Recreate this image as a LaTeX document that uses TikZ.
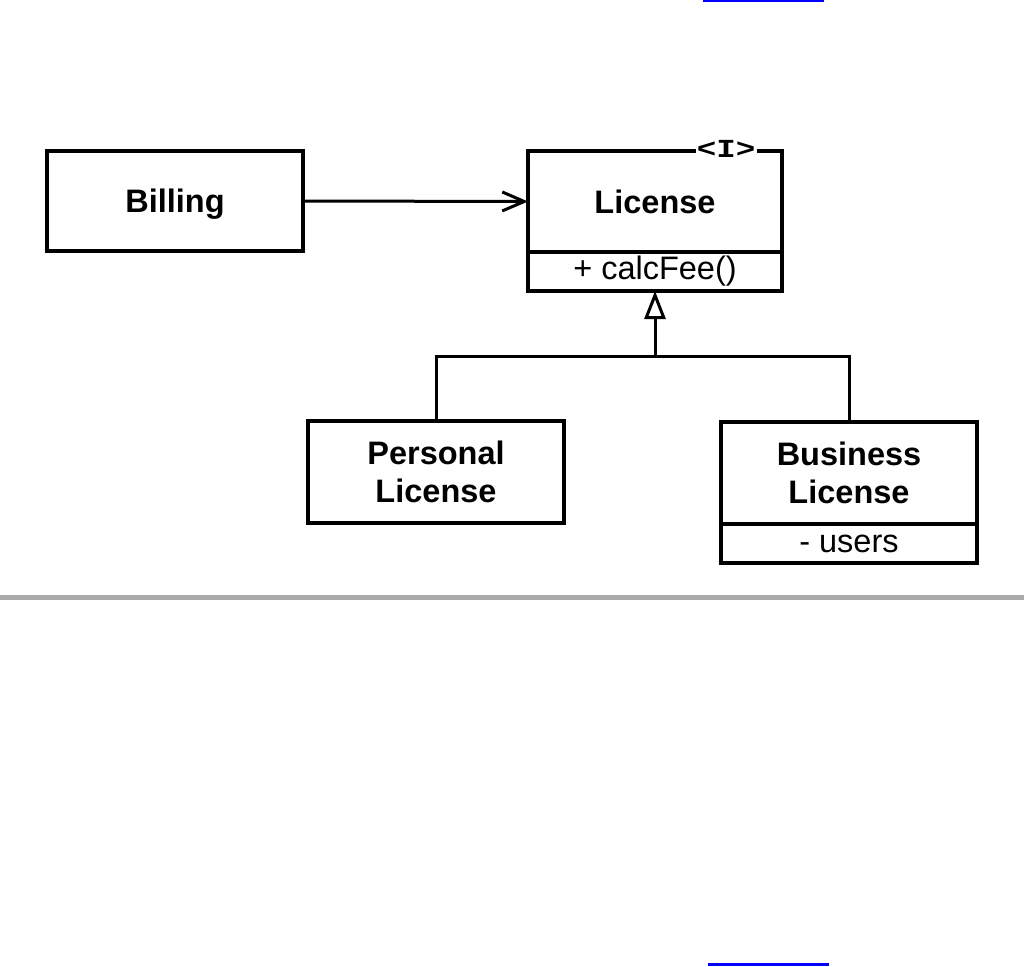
\documentclass[tikz,border=0pt]{standalone}
\usepackage{fontspec}
\setmainfont{Liberation Sans}
\newfontfamily\monofnt{Liberation Mono}
\usetikzlibrary{arrows.meta}
\definecolor{rulegray}{RGB}{170,170,172}
\definecolor{linkblue}{RGB}{0,0,255}
\tikzset{
  umlbox/.style={draw, line width=3.2pt, rectangle, inner sep=0pt, outer sep=0pt,
    anchor=north west, minimum width=#1, align=center,
    font=\fontsize{32.5}{38}\selectfont\bfseries},
  umlbox/.default=256pt,
  umlop/.style={draw, line width=3.2pt, rectangle, inner sep=0pt, outer sep=0pt,
    anchor=north west, minimum width=#1, minimum height=39pt, align=center,
    font=\fontsize{32.5}{38}\selectfont},
  conn/.style={line width=3pt},
}
\begin{document}
\begin{tikzpicture}[x=1pt,y=-1pt]
\useasboundingbox (0,0) rectangle (1024,966);
% page furniture
\fill[linkblue] (703,0) rectangle (824,2);
\fill[linkblue] (708,963) rectangle (829,966);
\fill[rulegray] (0,595) rectangle (1024,600);
% classes
\node[umlbox=256pt, minimum height=100pt, text depth=0pt] (bill) at (47,151) {Billing};
\node[umlbox=254pt, minimum height=101pt] (lic) at (528,151) {License};
\node[umlop=254pt] (licop) at (lic.south west) {+ calcFee()};
\node[fill=white, inner sep=1pt, xscale=1.25, transform shape,
  font=\monofnt\fontsize{26}{26}\selectfont\bfseries] (iface) at (726,149) {<I>};
\node[umlbox=256pt, minimum height=102pt] (pl) at (308,421) {Personal\\License};
\node[umlbox=256pt, minimum height=102pt] (bl) at (721,422) {Business\\License};
\node[umlop=256pt] (blop) at (bl.south west) {- users};
% connectors
\draw[conn, -{Straight Barb[length=22pt,width=19pt,line width=3pt]}] (bill.east) -- (lic.west);
\coordinate (j) at (655,356);
\draw[conn] (pl.north) |- (j) -| (bl.north);
\draw[conn, -{Triangle[open, length=28pt, width=21pt, line width=3pt]}] (j) -- (licop.south);
\end{tikzpicture}
\end{document}
